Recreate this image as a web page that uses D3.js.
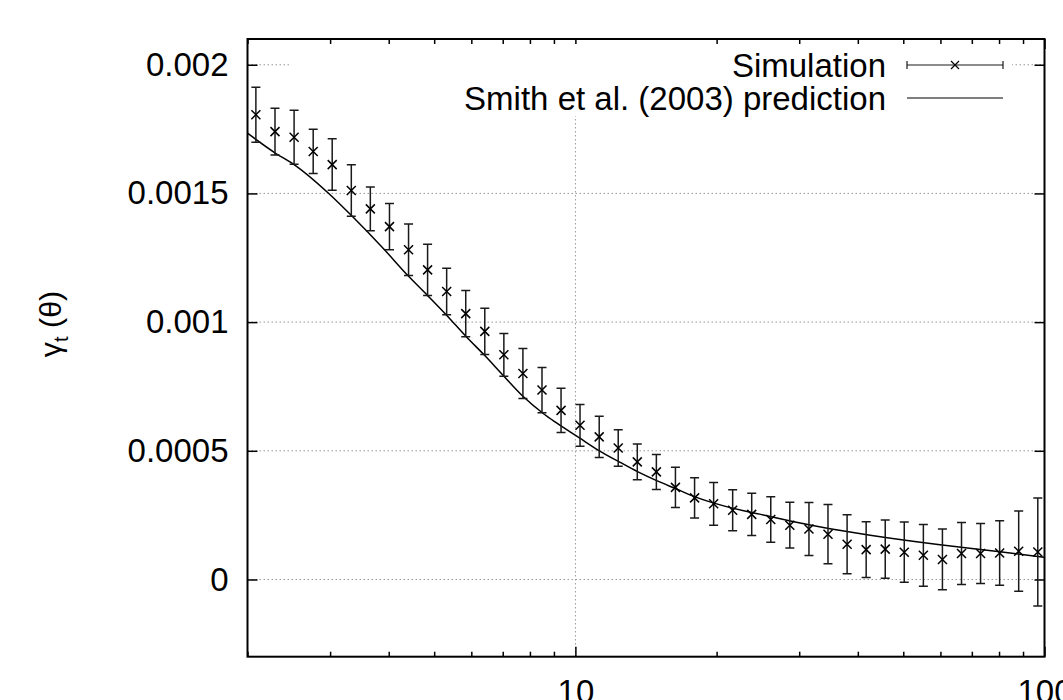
<!DOCTYPE html>
<html><head><meta charset="utf-8">
<title>gamma_t</title>
<script src="https://cdn.jsdelivr.net/npm/d3@7/dist/d3.min.js"></script>
<style>
  body { margin: 0; background: #fff; }
  svg text { font-family: "Liberation Sans", Arial, Helvetica, sans-serif; fill: #000; }
  .grid line { stroke: #999; stroke-width: 1; stroke-dasharray: 1.5,2.5; }
  .tick line { stroke: #000; stroke-width: 1.5; }
  .pred-line { fill: none; stroke: #000; stroke-width: 1.5; }
  .errbar { stroke: #1a1a1a; stroke-width: 1.5; fill: none; }
  .cross { stroke: #000; stroke-width: 1.5; fill: none; }
</style>
</head>
<body>
<svg id="chart" width="1063" height="700"></svg>
<script>
// simulation: angular bins (x), shear (y), error
var thetaBins = [2.084, 2.289, 2.514, 2.761, 3.031, 3.329, 3.655, 4.015, 4.409, 4.841,
  5.316, 5.838, 6.410, 7.039, 7.729, 8.488, 9.320, 10.23, 11.24, 12.34,
  13.55, 14.88, 16.34, 17.95, 19.71, 21.64, 23.76, 26.09, 28.65, 31.47,
  34.55, 37.95, 41.67, 45.76, 50.24, 55.18, 60.59, 66.54, 73.07, 80.24,
  88.10, 96.76];
var simGamma = [0.001806, 0.001740, 0.001718, 0.001663, 0.001612, 0.001511, 0.001440, 0.001371, 0.001281, 0.001203,
  0.001119, 0.001033, 0.000964, 0.000873, 0.000800, 0.000736, 0.000657, 0.000599, 0.000554, 0.000511,
  0.000457, 0.000418, 0.000358, 0.000317, 0.000294, 0.000269, 0.000253, 0.000233, 0.000211, 0.000196,
  0.000176, 0.000137, 0.000116, 0.000118, 0.000106, 0.000094, 0.000078, 0.000101, 0.000101, 0.000103,
  0.000110, 0.000107];
var simErr = [0.000107, 0.000091, 0.000105, 0.000086, 0.000100, 0.000100, 0.000085, 0.000090, 0.000100, 0.000100,
  0.000090, 0.000090, 0.000090, 0.000083, 0.000097, 0.000088, 0.000086, 0.000081, 0.000080, 0.000071,
  0.000069, 0.000068, 0.000078, 0.000078, 0.000083, 0.000080, 0.000082, 0.000088, 0.000089, 0.000103,
  0.000115, 0.000115, 0.000108, 0.000113, 0.000117, 0.000120, 0.000118, 0.000120, 0.000117, 0.000125,
  0.000156, 0.000210];

// Smith et al. (2003) prediction curve
var predTheta = [2.0, 2.3, 2.5, 3.0, 3.34, 3.9, 4.4, 4.85, 5.32, 5.84,
  6.41, 7.04, 7.75, 8.54, 9.05, 10.2, 11.2, 12.4, 13.6, 14.9,
  16.4, 18.0, 20.8, 24.7, 29.4, 34.9, 42.5, 59.9, 80.4, 100];
var predGamma = [0.001734, 0.001655, 0.001615, 0.001495, 0.001412, 0.001285, 0.001180, 0.001102, 0.001026, 0.000945,
  0.000870, 0.000790, 0.000710, 0.000645, 0.000612, 0.000550, 0.000502, 0.000457, 0.000418, 0.000384,
  0.000352, 0.000321, 0.000285, 0.000254, 0.000223, 0.000197, 0.000172, 0.000135, 0.000108, 0.000086];

var xMajor = [10, 100];
var xMajorLabels = ["10", "100"];
var xMinor = [2, 3, 4, 5, 6, 7, 8, 9, 20, 30, 40, 50, 60, 70, 80, 90];
var yTicks = [0, 0.0005, 0.001, 0.0015, 0.002];
var yTickLabels = ["0", "0.0005", "0.001", "0.0015", "0.002"];
var legendLabels = ["Simulation", "Smith et al. (2003) prediction"];

var svg = d3.select("#chart");
var L = 247.5, R = 1044.5, T = 39, B = 656.7;
var fs = 33;

var x = d3.scaleLog().domain([2, 100]).range([L, R]);
var y = d3.scaleLinear().domain([-0.0003, 0.0021]).range([B, T]);

// grid
var grid = svg.append("g").classed("grid", true);
grid.selectAll("line.gy").data(yTicks).enter().append("line")
  .attr("x1", L).attr("x2", R)
  .attr("y1", function(d) { return y(d); }).attr("y2", function(d) { return y(d); });
grid.selectAll("line.gx").data(xMajor.filter(function(d) { return d < 100; })).enter().append("line")
  .attr("x1", function(d) { return x(d); }).attr("x2", function(d) { return x(d); })
  .attr("y1", T).attr("y2", B);

// axes (ticks pointing inward, mirrored)
var xAxis = d3.axisBottom(x).tickValues(xMajor).tickSize(-10).tickPadding(23)
  .tickFormat(function(d, i) { return xMajorLabels[i]; });
var gx = svg.append("g").attr("transform", "translate(0," + B + ")").call(xAxis);
var xTop = svg.append("g").attr("transform", "translate(0," + T + ")")
  .call(d3.axisTop(x).tickValues(xMajor).tickSize(-10).tickFormat(""));
var gxm = svg.append("g").attr("transform", "translate(0," + B + ")")
  .call(d3.axisBottom(x).tickValues(xMinor).tickSize(-5).tickFormat(""));
var gxmt = svg.append("g").attr("transform", "translate(0," + T + ")")
  .call(d3.axisTop(x).tickValues(xMinor).tickSize(-5).tickFormat(""));

var yAxis = d3.axisLeft(y).tickValues(yTicks).tickSize(-10).tickPadding(19)
  .tickFormat(function(d, i) { return yTickLabels[i]; });
var gy = svg.append("g").attr("transform", "translate(" + L + ",0)").call(yAxis);
var gyr = svg.append("g").attr("transform", "translate(" + R + ",0)")
  .call(d3.axisRight(y).tickValues(yTicks).tickSize(-10).tickFormat(""));

svg.selectAll(".domain").remove();
svg.selectAll(".tick text").attr("font-size", fs).attr("font-family", null).style("fill", "#000");

// key box (opaque)
svg.append("rect").attr("x", 290).attr("y", 44).attr("width", 722).attr("height", 72).attr("fill", "#fff");

// prediction line
var line = d3.line()
  .x(function(d, i) { return x(predTheta[i]); })
  .y(function(d) { return y(d); })
  .curve(d3.curveMonotoneX);
svg.append("path").datum(predGamma).classed("pred-line", true).attr("d", line);

// simulation error bars + crosses
var pts = svg.append("g");
var cap = 4.5, cs = 4.5;
thetaBins.forEach(function(t, i) {
  var px = x(t), lo = y(simGamma[i] - simErr[i]), hi = y(simGamma[i] + simErr[i]), py = y(simGamma[i]);
  pts.append("path").classed("errbar", true)
    .attr("d", "M" + px + "," + lo + "V" + hi +
      "M" + (px - cap) + "," + lo + "H" + (px + cap) +
      "M" + (px - cap) + "," + hi + "H" + (px + cap));
  pts.append("path").classed("cross", true)
    .attr("d", "M" + (px - cs) + "," + (py - cs) + "L" + (px + cs) + "," + (py + cs) +
      "M" + (px - cs) + "," + (py + cs) + "L" + (px + cs) + "," + (py - cs));
});

// legend
var key = svg.append("g");
var keyY = [65, 98];
key.selectAll("text").data(legendLabels).enter().append("text")
  .attr("x", 886).attr("y", function(d, i) { return keyY[i]; })
  .attr("dy", "0.35em").attr("text-anchor", "end").attr("font-size", fs)
  .text(function(d) { return d; });
key.append("path").classed("errbar", true).style("stroke-width", 1.2)
  .attr("d", "M907," + keyY[0] + "H1003M907," + (keyY[0] - 4) + "V" + (keyY[0] + 4) +
    "M1003," + (keyY[0] - 4) + "V" + (keyY[0] + 4));
key.append("path").classed("cross", true).style("stroke-width", 1.2)
  .attr("d", "M951," + (keyY[0] - 4) + "L959," + (keyY[0] + 4) + "M951," + (keyY[0] + 4) + "L959," + (keyY[0] - 4));
key.append("path").classed("pred-line", true).style("stroke-width", 1.2).attr("d", "M907," + keyY[1] + "H1003");

// frame
svg.append("rect").attr("x", L).attr("y", T).attr("width", R - L).attr("height", B - T)
  .attr("fill", "none").attr("stroke", "#000").attr("stroke-width", 2);

// y label
var yl = svg.append("text").attr("transform", "translate(61,324) rotate(-90)")
  .attr("text-anchor", "middle").attr("font-size", fs * 0.92);
yl.append("tspan").text("γ");
yl.append("tspan").attr("font-size", fs * 0.62).attr("dy", 7).text("t");
yl.append("tspan").attr("dy", -7).text(" (θ)");
</script>
</body>
</html>
